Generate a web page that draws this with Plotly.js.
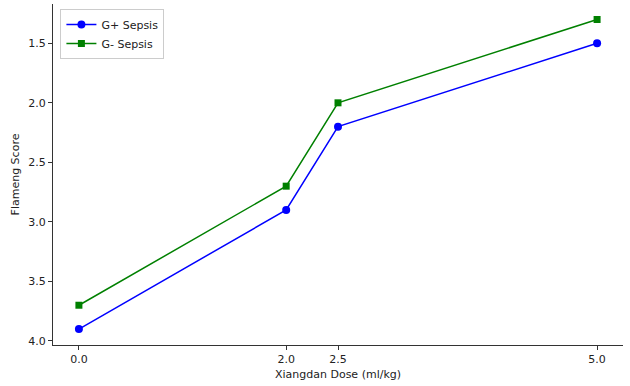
<!DOCTYPE html>
<html>
<head>
<meta charset="utf-8">
<script src="https://cdn.plot.ly/plotly-3.0.1.min.js"></script>
<style>html,body{margin:0;padding:0;background:#fff;}#chart{width:630px;height:386px;}</style>
</head>
<body>
<div id="chart"></div>
<script>
const doses = [0.0, 2.0, 2.5, 5.0];
const gPlus = [3.9, 2.9, 2.2, 1.5];
const gMinus = [3.7, 2.7, 2.0, 1.3];
const xTickVals = [0.0, 2.0, 2.5, 5.0];
const xTickText = ["0.0", "2.0", "2.5", "5.0"];
const yTickVals = [1.5, 2.0, 2.5, 3.0, 3.5, 4.0];
const yTickText = ["1.5", "2.0", "2.5", "3.0", "3.5", "4.0"];

const font = {family: "DejaVu Sans", size: 11, color: "#222"};
const traces = [
  {x: doses, y: gPlus, name: "G+ Sepsis", mode: "lines+markers",
   line: {color: "#0000ff", width: 1.5}, marker: {symbol: "circle", size: 8, color: "#0000ff"}},
  {x: doses, y: gMinus, name: "G- Sepsis", mode: "lines+markers",
   line: {color: "#008000", width: 1.5}, marker: {symbol: "square", size: 7, color: "#008000"}}
];
const layout = {
  width: 630, height: 386,
  margin: {l: 53, r: 7, t: 4, b: 41},
  paper_bgcolor: "#fff", plot_bgcolor: "#fff",
  font: font,
  showlegend: true,
  legend: {x: 0.013, y: 0.985, xanchor: "left", yanchor: "top",
    bgcolor: "rgba(255,255,255,0.8)", bordercolor: "#ccc", borderwidth: 1,
    font: {family: "DejaVu Sans", size: 11, color: "#222"}, tracegroupgap: 0},
  xaxis: {range: [-0.25, 5.25], tickvals: xTickVals, ticktext: xTickText,
    showgrid: false, zeroline: false, showline: true, linecolor: "#333", linewidth: 1,
    ticks: "outside", ticklen: 4, tickcolor: "#333",
    title: {text: "Xiangdan Dose (ml/kg)", font: {family: "DejaVu Sans", size: 11, color: "#222"}, standoff: 5}},
  yaxis: {range: [4.034, 1.17], tickvals: yTickVals, ticktext: yTickText,
    showgrid: false, zeroline: false, showline: true, linecolor: "#333", linewidth: 1,
    ticks: "outside", ticklen: 4, tickcolor: "#333",
    title: {text: "Flameng Score", font: {family: "DejaVu Sans", size: 11, color: "#222"}, standoff: 6}}
};
Plotly.newPlot("chart", traces, layout, {displayModeBar: false, staticPlot: true});
</script>
</body>
</html>
